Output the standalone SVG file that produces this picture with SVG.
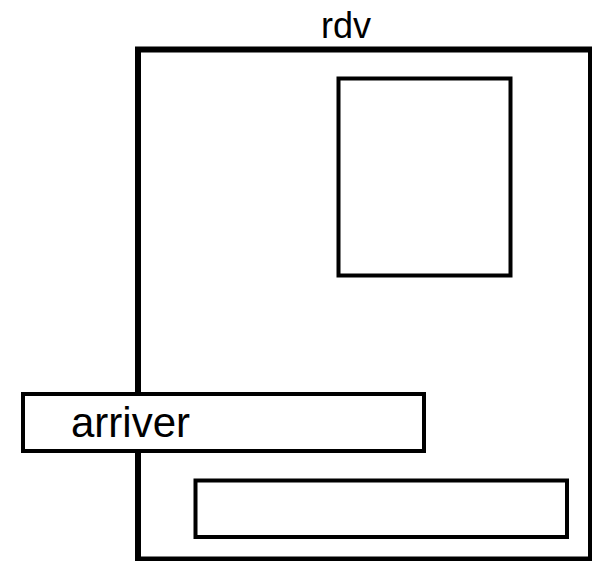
<svg xmlns="http://www.w3.org/2000/svg" width="592" height="561" viewBox="0 0 592 561">
  <style>
    .box { fill: #ffffff; stroke: #000000; }
    .label { font-family: "Liberation Sans", Arial, Helvetica, sans-serif; fill: #000000; }
  </style>
  <rect x="0" y="0" width="592" height="561" fill="#ffffff"/>
  <!-- container state -->
  <g id="rdv">
    <rect class="box" x="138" y="49.5" width="453" height="510" stroke-width="6"/>
    <text class="label" x="346" y="37.5" font-size="36" text-anchor="middle">rdv</text>
  </g>
  <g id="inner-top">
    <rect class="box" x="338.5" y="78.5" width="172" height="197" stroke-width="4"/>
  </g>
  <g id="inner-bottom">
    <rect class="box" x="195.5" y="480.5" width="371.5" height="56.5" stroke-width="4"/>
  </g>
  <g id="arriver">
    <rect class="box" x="23" y="394" width="401" height="57" stroke-width="4"/>
    <text class="label" x="71" y="437" font-size="42">arriver</text>
  </g>
  <g id="connectors"/>
</svg>
